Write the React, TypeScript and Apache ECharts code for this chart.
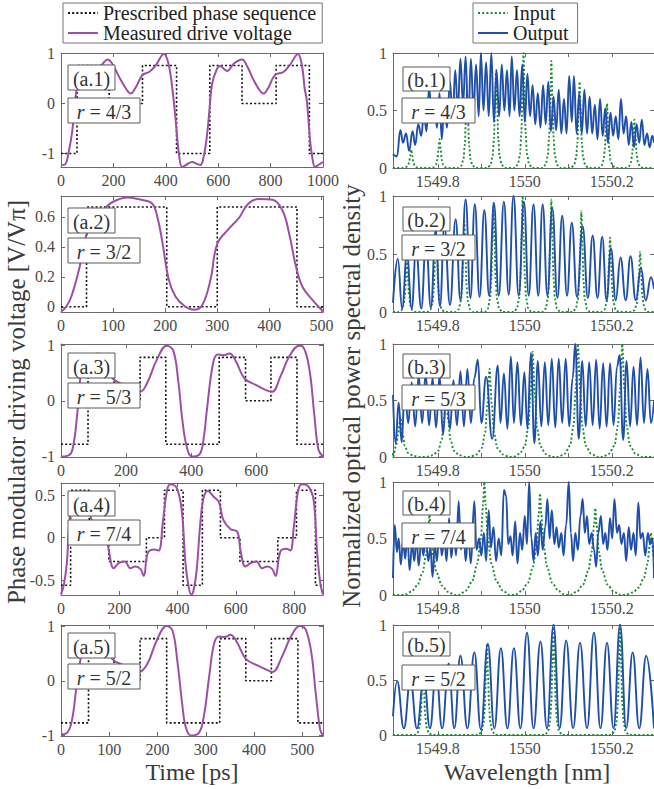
import React, { useEffect, useRef } from "react";
import * as echarts from "echarts";

// ---------------- Data: time-domain panels ----------------
const a1Steps = [[0,-1],[61,0.76],[184,0],[311,0.76],[441,-1],[568,0.76],[691,0],[821,0.76],[948,-1],[1000,-1]];
const a1Voltage = [[0,-1.23],[15,-1.22],[30,-0.95],[43,-0.55],[55,0.1],[65,0.45],[81,0.7],[93,0.75],[115,0.68],[135,0.66],[160,0.8],[177,0.88],[195,0.8],[225,0.5],[250,0.28],[266,0.2],[285,0.32],[311,0.57],[336,0.63],[360,0.75],[393,0.99],[410,0.8],[425,0.3],[437,-0.3],[450,-1.0],[463,-1.27],[480,-1.22],[500,-1.17],[520,-1.21],[532,-1.23],[545,-1.05],[558,-0.6],[567,-0.1],[577,0.4],[596,0.7],[608,0.75],[620,0.7],[634,0.65],[660,0.8],[691,0.88],[710,0.75],[735,0.47],[760,0.25],[773,0.2],[790,0.3],[817,0.57],[849,0.63],[875,0.78],[904,0.99],[920,0.75],[930,0.3],[938,0.07],[950,-0.7],[957,-1.0],[970,-1.27],[985,-1.22],[1000,-1.17]];

const a2Steps = [[0,0],[49,0.667],[203,0],[300,0.667],[453,0],[503,0]];
const a2Voltage = [[0,-0.033],[10,0.0],[20,0.07],[36,0.27],[48,0.47],[65,0.58],[82,0.65],[99,0.7],[128,0.73],[154,0.715],[175,0.69],[185,0.6],[194,0.445],[207,0.18],[220,0.067],[239,0],[255,-0.02],[271,0.01],[287,0.18],[300,0.42],[322,0.52],[341,0.59],[360,0.69],[380,0.72],[406,0.715],[425,0.645],[438,0.49],[451,0.27],[464,0.13],[483,0.045],[503,-0.03]];

const a3Steps = [[0,-0.78],[83,0.78],[163,0],[243,0.78],[322,-0.78],[486,0.78],[567,0],[645,0.78],[725,-0.78],[805,-0.78]];
const a3Voltage = [[0,-1],[19,-0.99],[35,-0.88],[50,-0.23],[60,0.45],[70,0.8],[80,0.83],[95,0.82],[113,0.85],[133,0.7],[159,0.4],[195,0.28],[225,0.19],[243,0.16],[264,0.31],[294,0.73],[325,0.99],[345,0.9],[360,0.37],[373,-0.35],[386,-0.82],[401,-1.0],[427,-0.95],[440,-0.6],[447,-0.23],[467,0.67],[482,0.83],[499,0.82],[518,0.85],[538,0.7],[564,0.4],[600,0.28],[630,0.19],[648,0.16],[676,0.46],[701,0.79],[732,0.99],[742,0.98],[762,0.61],[778,-0.23],[791,-0.88],[805,-1.0]];

const a4Steps = [[0,-0.56],[33,0.56],[97,0],[164,-0.28],[293,0],[355,0.56],[419,-0.56],[485,0.56],[547,0],[614,-0.28],[744,0],[808,0.56],[873,-0.56],[899,-0.56]];
const a4Voltage = [[0,-0.67],[10,-0.55],[20,-0.3],[27,0.1],[38,0.45],[52,0.55],[73,0.48],[90,0.42],[105,0.21],[130,0.1],[153,0.05],[164,-0.15],[181,-0.36],[198,-0.3],[219,-0.28],[238,-0.36],[255,-0.34],[273,-0.37],[284,-0.45],[298,-0.18],[319,-0.14],[335,-0.15],[350,0.2],[364,0.56],[375,0.63],[398,0.58],[415,0.3],[427,-0.3],[438,-0.58],[447,-0.67],[455,-0.62],[465,-0.4],[479,0.21],[490,0.48],[504,0.55],[525,0.48],[542,0.42],[557,0.21],[582,0.1],[605,0.07],[616,-0.15],[633,-0.34],[650,-0.3],[671,-0.28],[690,-0.36],[707,-0.34],[725,-0.37],[736,-0.45],[753,-0.16],[774,-0.13],[787,-0.15],[799,0.13],[814,0.56],[827,0.63],[850,0.6],[867,0.44],[879,-0.18],[890,-0.54],[899,-0.67]];

const a5Steps = [[0,-0.77],[57,0.77],[110,0],[164,0.77],[219,-0.77],[329,0.77],[383,0],[436,0.77],[491,-0.77],[543,-0.77]];
const a5Voltage = [[0,-0.98],[13,-0.95],[23,-0.71],[32,-0.11],[41,0.43],[48,0.8],[55,0.83],[65,0.82],[77,0.84],[90,0.7],[106,0.4],[130,0.28],[150,0.19],[162,0.16],[179,0.31],[200,0.77],[219,1.0],[231,0.92],[241,0.37],[251,-0.41],[258,-0.83],[269,-1.0],[286,-0.95],[296,-0.65],[307,0.07],[317,0.67],[327,0.81],[339,0.8],[351,0.84],[365,0.7],[383,0.4],[407,0.28],[427,0.2],[438,0.16],[459,0.46],[476,0.8],[495,1.0],[503,0.99],[517,0.61],[528,-0.23],[537,-0.89],[543,-1.0]];

// ---------------- Data: spectral panels ----------------
const b1Output = [[1549.697,0.12],[1549.706,0.1],[1549.714,0.33],[1549.72,0.22],[1549.727,0.3],[1549.734,0.15],[1549.742,0.32],[1549.748,0.2],[1549.755,0.38],[1549.762,0.28],[1549.768,0.48],[1549.774,0.32],[1549.78,0.7],[1549.786,0.45],[1549.792,0.6],[1549.798,0.35],[1549.804,0.65],[1549.809,0.25],[1549.815,0.55],[1549.821,0.35],[1549.828,0.75],[1549.834,0.4],[1549.84,0.85],[1549.846,0.5],[1549.852,0.95],[1549.858,0.55],[1549.864,0.97],[1549.87,0.38],[1549.876,0.95],[1549.882,0.5],[1549.888,0.9],[1549.894,0.45],[1549.899,1.0],[1549.905,0.5],[1549.911,0.92],[1549.917,0.45],[1549.923,1.0],[1549.929,0.4],[1549.935,0.85],[1549.941,0.45],[1549.947,0.9],[1549.953,0.5],[1549.959,0.85],[1549.965,0.45],[1549.97,0.97],[1549.976,0.5],[1549.982,0.85],[1549.988,0.45],[1549.994,0.9],[1550.0,0.4],[1550.006,0.82],[1550.012,0.45],[1550.018,0.72],[1550.024,0.38],[1550.03,0.65],[1550.036,0.35],[1550.042,0.72],[1550.048,0.38],[1550.054,0.75],[1550.06,0.32],[1550.066,0.62],[1550.072,0.33],[1550.078,0.68],[1550.084,0.3],[1550.09,0.6],[1550.096,0.3],[1550.102,0.8],[1550.108,0.4],[1550.113,0.8],[1550.119,0.3],[1550.125,0.65],[1550.131,0.3],[1550.137,0.68],[1550.143,0.3],[1550.149,0.62],[1550.155,0.3],[1550.161,0.55],[1550.167,0.25],[1550.173,0.6],[1550.179,0.28],[1550.185,0.52],[1550.191,0.22],[1550.197,0.48],[1550.203,0.28],[1550.209,0.45],[1550.215,0.25],[1550.221,0.6],[1550.227,0.3],[1550.233,0.45],[1550.239,0.2],[1550.245,0.4],[1550.251,0.18],[1550.257,0.38],[1550.263,0.22],[1550.269,0.42],[1550.275,0.2],[1550.281,0.3],[1550.287,0.18],[1550.293,0.28],[1550.297,0.22]];
const b1InputPeaks = [[1549.739,0.16],[1549.804,0.25],[1549.867,0.65],[1549.934,0.85],[1549.997,1.0],[1550.061,0.93],[1550.126,0.75],[1550.189,0.56],[1550.252,0.42]];

const b2Output = [[1549.697,0.08],[1549.708,0.46],[1549.718,0.03],[1549.729,0.5],[1549.74,0.03],[1549.75,0.55],[1549.762,0.03],[1549.773,0.62],[1549.784,0.04],[1549.795,0.7],[1549.805,0.05],[1549.815,0.74],[1549.828,0.06],[1549.841,0.8],[1549.852,0.1],[1549.864,0.97],[1549.875,0.12],[1549.885,0.93],[1549.896,0.13],[1549.907,0.88],[1549.918,0.14],[1549.929,0.94],[1549.94,0.14],[1549.952,0.95],[1549.963,0.15],[1549.974,1.0],[1549.986,0.14],[1549.998,0.95],[1550.009,0.14],[1550.02,0.93],[1550.031,0.14],[1550.041,0.93],[1550.052,0.14],[1550.063,0.9],[1550.075,0.12],[1550.086,0.83],[1550.097,0.14],[1550.108,0.77],[1550.12,0.13],[1550.133,0.74],[1550.145,0.12],[1550.156,0.66],[1550.167,0.12],[1550.178,0.65],[1550.188,0.1],[1550.198,0.55],[1550.209,0.1],[1550.22,0.47],[1550.232,0.1],[1550.243,0.48],[1550.255,0.1],[1550.267,0.38],[1550.278,0.1],[1550.29,0.3],[1550.297,0.2]];
const b2InputPeaks = [[1549.729,0.45],[1549.796,0.7],[1549.861,0.78],[1549.928,0.94],[1549.995,1.0],[1550.061,0.97],[1550.13,0.87],[1550.196,0.64],[1550.265,0.52]];

const b3Output = [[1549.697,0.55],[1549.703,0.12],[1549.71,0.48],[1549.717,0.13],[1549.724,0.62],[1549.732,0.3],[1549.74,0.66],[1549.748,0.27],[1549.756,0.72],[1549.764,0.3],[1549.772,0.74],[1549.78,0.28],[1549.788,0.7],[1549.796,0.26],[1549.804,0.72],[1549.812,0.2],[1549.82,0.6],[1549.828,0.25],[1549.836,0.68],[1549.844,0.28],[1549.852,0.76],[1549.86,0.27],[1549.868,0.78],[1549.876,0.3],[1549.884,0.7],[1549.892,0.86],[1549.9,0.3],[1549.911,0.71],[1549.925,0.16],[1549.938,0.81],[1549.944,0.3],[1549.952,0.74],[1549.96,0.25],[1549.968,0.89],[1549.975,0.3],[1549.983,0.84],[1549.991,0.28],[1549.999,0.75],[1550.006,0.25],[1550.014,0.92],[1550.022,0.12],[1550.03,0.85],[1550.038,0.27],[1550.046,0.84],[1550.054,0.28],[1550.062,0.87],[1550.07,0.26],[1550.078,0.87],[1550.086,0.3],[1550.094,0.87],[1550.102,0.27],[1550.11,0.7],[1550.116,1.0],[1550.124,0.16],[1550.132,0.85],[1550.14,0.27],[1550.148,0.84],[1550.156,0.28],[1550.164,0.86],[1550.172,0.25],[1550.18,0.83],[1550.188,0.27],[1550.196,0.83],[1550.204,0.28],[1550.212,0.8],[1550.218,0.9],[1550.226,0.15],[1550.234,0.85],[1550.242,0.27],[1550.25,0.8],[1550.258,0.28],[1550.266,0.88],[1550.274,0.3],[1550.282,0.78],[1550.29,0.3],[1550.297,0.5]];
const b3InputPeaks = [[1549.714,0.35],[1549.819,0.55],[1549.919,0.78],[1550.018,0.93],[1550.122,1.0],[1550.224,1.0]];

const b4Output = [[1549.697,0.15],[1549.701,0.62],[1549.706,0.38],[1549.71,0.5],[1549.715,0.27],[1549.72,0.48],[1549.725,0.32],[1549.73,0.55],[1549.735,0.22],[1549.741,0.45],[1549.746,0.3],[1549.751,0.52],[1549.756,0.26],[1549.762,0.48],[1549.767,0.35],[1549.772,0.55],[1549.778,0.3],[1549.783,0.42],[1549.788,0.16],[1549.793,0.45],[1549.798,0.3],[1549.804,0.62],[1549.809,0.35],[1549.815,0.5],[1549.82,0.3],[1549.826,0.68],[1549.831,0.33],[1549.837,0.55],[1549.842,0.35],[1549.848,0.83],[1549.853,0.4],[1549.859,0.6],[1549.864,0.3],[1549.87,0.55],[1549.876,0.28],[1549.884,0.83],[1549.889,0.4],[1549.895,0.5],[1549.9,0.35],[1549.906,0.55],[1549.911,0.3],[1549.917,0.75],[1549.922,0.42],[1549.928,0.6],[1549.934,0.3],[1549.94,0.5],[1549.946,0.35],[1549.952,0.93],[1549.957,0.88],[1549.962,0.45],[1549.967,0.52],[1549.972,0.35],[1549.978,0.65],[1549.983,0.28],[1549.989,0.55],[1549.994,0.4],[1550.0,0.7],[1550.005,0.45],[1550.01,1.0],[1550.015,0.5],[1550.02,0.3],[1550.025,0.55],[1550.03,0.35],[1550.036,0.65],[1550.041,0.4],[1550.047,0.6],[1550.052,0.85],[1550.057,0.5],[1550.062,0.75],[1550.068,0.45],[1550.073,0.6],[1550.078,0.42],[1550.084,0.55],[1550.089,0.35],[1550.095,0.62],[1550.101,1.0],[1550.106,0.55],[1550.111,0.3],[1550.116,0.55],[1550.122,0.4],[1550.128,0.7],[1550.133,0.85],[1550.138,0.55],[1550.143,0.7],[1550.148,0.45],[1550.154,0.55],[1550.159,0.4],[1550.164,0.25],[1550.169,0.55],[1550.175,0.7],[1550.18,0.45],[1550.185,0.55],[1550.19,0.4],[1550.196,0.68],[1550.201,0.5],[1550.206,0.85],[1550.212,0.55],[1550.217,0.62],[1550.222,0.45],[1550.228,0.55],[1550.233,0.3],[1550.239,0.6],[1550.244,0.4],[1550.25,0.55],[1550.255,0.35],[1550.261,0.82],[1550.266,0.5],[1550.271,0.55],[1550.277,0.35],[1550.283,0.55],[1550.288,0.45],[1550.294,0.5],[1550.297,0.15]];
const b4InputPeaks = [[1549.781,0.71],[1549.907,1.0],[1550.035,0.9],[1550.162,0.77],[1550.29,0.55]];

const b5Output = [[1549.697,0.17],[1549.7065,0.49],[1549.722,0.06],[1549.737,0.5],[1549.752,0.06],[1549.768,0.52],[1549.782,0.06],[1549.796,0.58],[1549.81,0.06],[1549.825,0.65],[1549.838,0.06],[1549.852,0.72],[1549.868,0.06],[1549.884,0.75],[1549.899,0.05],[1549.915,0.83],[1549.93,0.06],[1549.945,0.79],[1549.96,0.06],[1549.975,0.79],[1549.99,0.06],[1550.005,0.93],[1550.02,0.06],[1550.036,0.85],[1550.051,0.06],[1550.066,1.0],[1550.08,0.06],[1550.095,0.86],[1550.111,0.06],[1550.127,0.84],[1550.143,0.06],[1550.159,0.93],[1550.174,0.06],[1550.189,0.84],[1550.204,0.06],[1550.219,1.0],[1550.233,0.06],[1550.248,0.75],[1550.263,0.06],[1550.279,0.72],[1550.297,0.06]];
const b5InputPeaks = [[1549.766,0.6],[1549.913,0.83],[1550.066,1.0],[1550.219,1.0]];

// line shapes of the input comb lines: [offset nm, relative level]
const narrowLine = [[-0.02,0],[-0.013,0.03],[-0.008,0.12],[-0.005,0.3],[-0.0025,0.65],[0,1],[0.0025,0.65],[0.005,0.3],[0.008,0.12],[0.013,0.03],[0.02,0]];
const midLine = [[-0.045,0],[-0.03,0.03],[-0.018,0.1],[-0.01,0.28],[-0.005,0.6],[0,1],[0.005,0.6],[0.01,0.28],[0.018,0.1],[0.03,0.03],[0.045,0]];
const wideLine = [[-0.058,0],[-0.042,0.04],[-0.028,0.12],[-0.016,0.28],[-0.008,0.5],[-0.003,0.8],[0,1],[0.003,0.8],[0.008,0.5],[0.016,0.28],[0.028,0.12],[0.042,0.04],[0.058,0]];

// tick labels / annotations
const leftXMax = [1000, 503, 805, 899, 543];
const leftYRange = [[-1.27, 1.01], [-0.035, 0.74], [-1.01, 1.02], [-0.675, 0.645], [-1.01, 1.02]];
const leftXTicks = [[0,200,400,600,800,1000],[0,100,200,300,400,500],[0,200,400,600],[0,200,400,600,800],[0,100,200,300,400,500]];
const leftYTicks = [[-1,0,1],[0,0.2,0.4,0.6],[-1,0,1],[-0.5,0,0.5],[-1,0,1]];
const rightXTicks = [1549.8, 1549.9, 1550, 1550.1, 1550.2];
const rightXLabels = [1549.8, 1550, 1550.2];
const rightYTicks = [0, 0.5, 1];
const ratioLabels = ["4/3", "3/2", "5/3", "7/4", "5/2"];

const leftSteps = [a1Steps, a2Steps, a3Steps, a4Steps, a5Steps];
const leftVoltage = [a1Voltage, a2Voltage, a3Voltage, a4Voltage, a5Voltage];
const rightOutput = [b1Output, b2Output, b3Output, b4Output, b5Output];
const rightInputPeaks = [b1InputPeaks, b2InputPeaks, b3InputPeaks, b4InputPeaks, b5InputPeaks];
const rightLineShape = [narrowLine, narrowLine, midLine, wideLine, narrowLine];

const SERIF = "'Liberation Serif', 'Times New Roman', serif";
const AX = "#6a6a6a";
const TICK = "#4a4a4a";
const PURPLE = "#9d4fa6";
const BLUE = "#1f4fa8";
const GREEN = "#1b8a34";
const BLACK = "#111";
const WL_MIN = 1549.697;
const WL_MAX = 1550.297;

function buildInput(peaks: number[][], shape: number[][]) {
  const pts: number[][] = [[WL_MIN, 0]];
  peaks.forEach(([c, h]) => {
    shape.forEach(([o, r]) => pts.push([c + o, h * r]));
  });
  pts.push([WL_MAX + 0.06, 0]);
  pts.sort((p, q) => p[0] - q[0]);
  return pts;
}

const fmt = (v: number) => String(Math.round(v * 1000) / 1000);

function axisPair(kind: "x" | "y", gi: number, min: number, max: number, ticks: number[], labels: number[]) {
  const line = { show: true, onZero: false, lineStyle: { color: AX, width: 1 } };
  const tick = { show: true, inside: true, length: 4, customValues: ticks, lineStyle: { color: AX, width: 1 } };
  const main = {
    type: "value", gridIndex: gi, min, max,
    position: kind === "x" ? "bottom" : "left",
    axisLine: line, axisTick: tick, splitLine: { show: false },
    axisLabel: { show: true, customValues: labels, formatter: fmt, color: TICK, fontFamily: SERIF, fontSize: 16, margin: kind === "x" ? 5 : 6 },
  };
  const twin = {
    type: "value", gridIndex: gi, min, max,
    position: kind === "x" ? "top" : "right",
    axisLine: line, axisTick: tick, splitLine: { show: false }, axisLabel: { show: false },
  };
  return [main, twin];
}

const LEFT_TOPS = [53, 196, 344, 483, 625];
const LEFT_H = [114, 116, 113, 112, 111];
const RIGHT_TOPS = [53, 196, 344, 482, 625];
const RIGHT_H = [115, 116, 113, 113, 110];

function labelBox(x: number, y: number, w: number, h: number, content: any) {
  return [
    { type: "rect", z: 100, shape: { x, y, width: w, height: h }, style: { fill: "#fff", stroke: "#5a5a5a", lineWidth: 1 } },
    { type: "text", z: 101, x: x + w / 2, y: y + h / 2 + 1, style: { ...content, fill: "#333", align: "center", verticalAlign: "middle", textAlign: "center", textVerticalAlign: "middle" } },
  ];
}

function buildOption() {
  const grid: any[] = [];
  const xAxis: any[] = [];
  const yAxis: any[] = [];
  const series: any[] = [];
  const graphic: any[] = [];

  for (let i = 0; i < 5; i++) {
    grid.push({ left: 61, top: LEFT_TOPS[i], width: 262, height: LEFT_H[i] });
  }
  for (let i = 0; i < 5; i++) {
    grid.push({ left: 393, top: RIGHT_TOPS[i], width: 261, height: RIGHT_H[i] });
  }

  for (let i = 0; i < 5; i++) {
    xAxis.push(...axisPair("x", i, 0, leftXMax[i], leftXTicks[i], leftXTicks[i]));
    yAxis.push(...axisPair("y", i, leftYRange[i][0], leftYRange[i][1], leftYTicks[i], leftYTicks[i]));
    series.push({
      name: "Prescribed phase sequence", type: "line", xAxisIndex: 2 * i, yAxisIndex: 2 * i,
      data: leftSteps[i], step: "end", symbol: "none", z: 2, color: BLACK,
      itemStyle: { color: BLACK },
      lineStyle: { color: BLACK, width: 1.6, type: [2, 2.2] },
    });
    series.push({
      name: "Measured drive voltage", type: "line", xAxisIndex: 2 * i, yAxisIndex: 2 * i,
      data: leftVoltage[i], smooth: 0.4, symbol: "none", z: 3, color: PURPLE,
      itemStyle: { color: PURPLE },
      lineStyle: { color: PURPLE, width: 2 },
    });
  }
  for (let i = 0; i < 5; i++) {
    const gi = 5 + i;
    xAxis.push(...axisPair("x", gi, WL_MIN, WL_MAX, rightXTicks, rightXLabels));
    yAxis.push(...axisPair("y", gi, 0, 1, rightYTicks, rightYTicks));
    series.push({
      name: "Input", type: "line", xAxisIndex: 2 * gi, yAxisIndex: 2 * gi,
      data: buildInput(rightInputPeaks[i], rightLineShape[i]), smooth: 0.3, smoothMonotone: "x", symbol: "none", z: 2, color: GREEN,
      itemStyle: { color: GREEN },
      lineStyle: { color: GREEN, width: 1.9, type: [2, 2.2] },
    });
    series.push({
      name: "Output", type: "line", xAxisIndex: 2 * gi, yAxisIndex: 2 * gi,
      data: rightOutput[i], smooth: 0.45, smoothMonotone: "x", symbol: "none", z: 3, color: BLUE,
      itemStyle: { color: BLUE },
      lineStyle: { color: BLUE, width: 1.9 },
    });
  }

  const leftLabTop = [65, 208, 353, 491, 633];
  const leftRTop = [98, 238, 383, 520, 664];
  const rightLabTop = [67, 207, 354, 491, 632];
  const rightRTop = [98, 235, 385, 523, 665];
  const rich = { i: { fontStyle: "italic", fontFamily: SERIF, fontSize: 20, fill: "#333" }, n: { fontFamily: SERIF, fontSize: 20, fill: "#333" } };
  for (let i = 0; i < 5; i++) {
    graphic.push(...labelBox(68, leftLabTop[i], 47, 25, { text: `(a.${i + 1})`, fontFamily: SERIF, fontSize: 20 }));
    graphic.push(...labelBox(68, leftRTop[i], 72, 25, { text: `{i|r}{n| = ${ratioLabels[i]}}`, fontFamily: SERIF, fontSize: 20, rich }));
    graphic.push(...labelBox(403, rightLabTop[i], 47, 24, { text: `(b.${i + 1})`, fontFamily: SERIF, fontSize: 20 }));
    graphic.push(...labelBox(402, rightRTop[i], 73, 25, { text: `{i|r}{n| = ${ratioLabels[i]}}`, fontFamily: SERIF, fontSize: 20, rich }));
  }

  const title = { fontFamily: SERIF, fontSize: 24, fill: "#3a3a3a", align: "center", verticalAlign: "middle", textAlign: "center", textVerticalAlign: "middle" };
  graphic.push({ type: "text", x: 192, y: 772, style: { ...title, text: "Time [ps]" } });
  graphic.push({ type: "text", x: 527, y: 772, style: { ...title, text: "Wavelength [nm]" } });
  graphic.push({ type: "text", x: 16, y: 402, rotation: Math.PI / 2, style: { ...title, fontSize: 25, text: "Phase modulator driving voltage [V/Vπ]" } });
  graphic.push({ type: "text", x: 351, y: 396, rotation: Math.PI / 2, style: { ...title, fontSize: 25, text: "Normalized optical power spectral density" } });

  const legendBase = {
    orient: "vertical", top: 3, itemWidth: 30, itemHeight: 12, itemGap: 0,
    padding: [0, 6, 0, 4], borderColor: "#777", borderWidth: 1, backgroundColor: "#fff",
    selectedMode: false,
    itemStyle: { opacity: 0 },
    textStyle: { fontFamily: SERIF, fontSize: 20, color: "#222" },
  };

  return {
    animation: false,
    backgroundColor: "#fff",
    grid, xAxis, yAxis, series, graphic,
    legend: [
      { ...legendBase, left: 63, data: ["Prescribed phase sequence", "Measured drive voltage"] },
      { ...legendBase, left: 473, padding: [0, 9, 0, 4], data: ["Input", "Output"] },
    ],
  };
}

export default function App() {
  const ref = useRef<HTMLDivElement>(null);
  useEffect(() => {
    document.body.style.margin = "0";
    if (!ref.current) return;
    const chart = echarts.init(ref.current, null, { renderer: "svg" });
    chart.setOption(buildOption() as any);
    return () => chart.dispose();
  }, []);
  return <div ref={ref} style={{ width: 654, height: 789 }} />;
}
